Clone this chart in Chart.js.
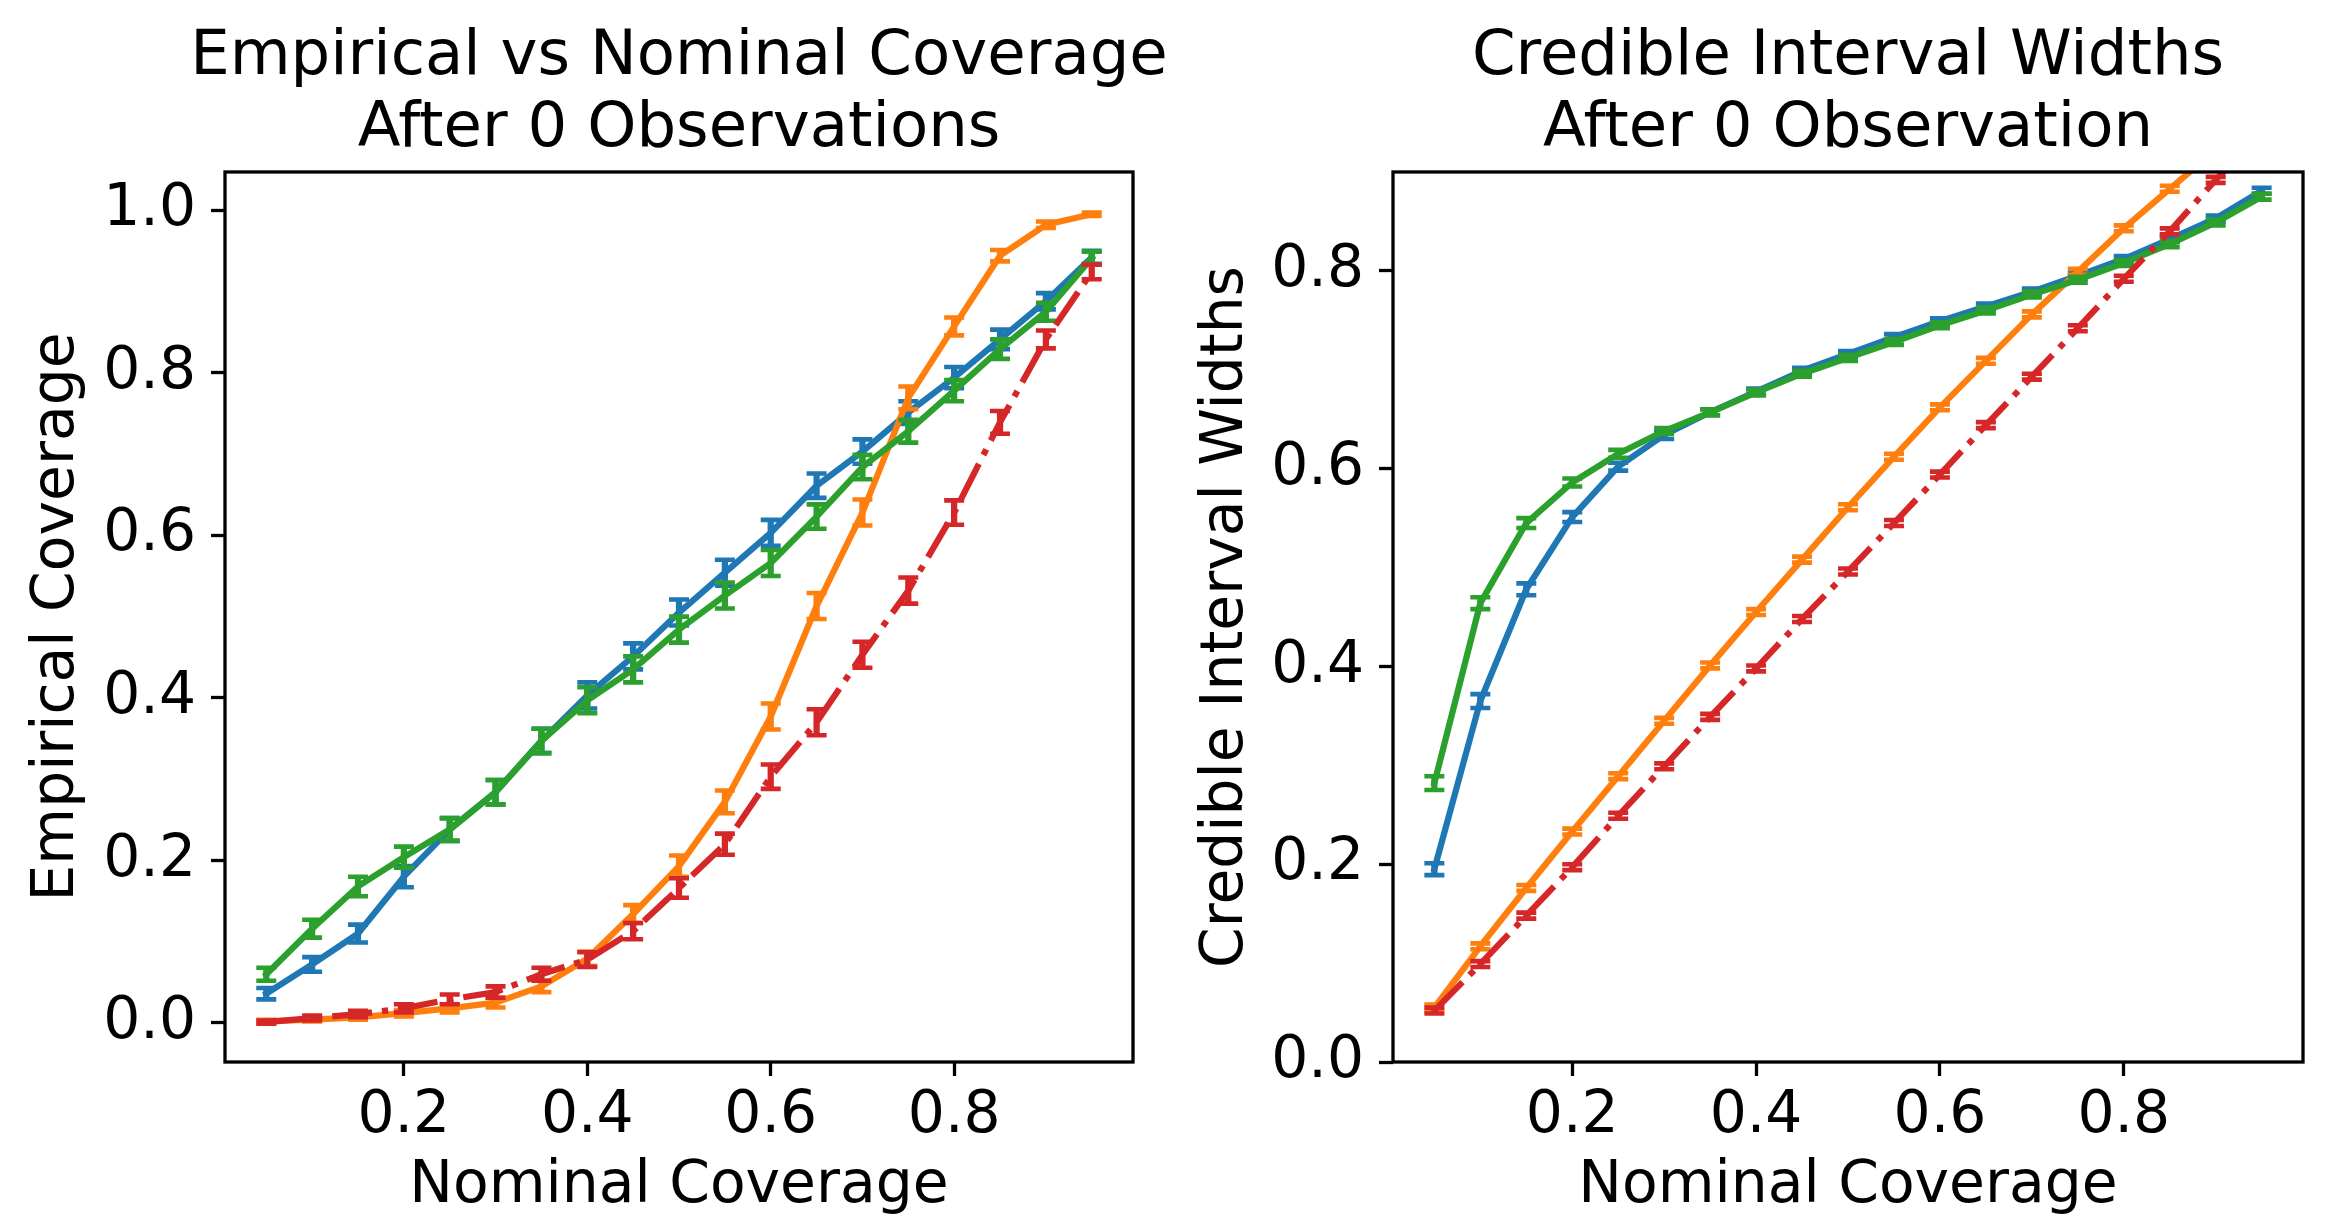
<!DOCTYPE html>
<html><head><meta charset="utf-8">
<script src="https://cdn.jsdelivr.net/npm/chart.js@4.4.1/dist/chart.umd.min.js"></script>
<style>
html,body{margin:0;padding:0;background:#fff;}
#wrap{position:relative;width:2333px;height:1223px;overflow:hidden;background:#fff;}
canvas{position:absolute;top:0;}
</style></head><body>
<div id="wrap">
<canvas id="c2" width="1167" height="1223" style="left:1166px;width:1167px;height:1223px"></canvas>
<canvas id="c1" width="1358" height="1223" style="left:0px;width:1358px;height:1223px"></canvas>
</div>
<script>
// ---- data ----
const nominal = [0.05,0.10,0.15,0.20,0.25,0.30,0.35,0.40,0.45,0.50,0.55,0.60,0.65,0.70,0.75,0.80,0.85,0.90,0.95];
const xTicks = [0.2,0.4,0.6,0.8];
const yTicksCoverage = [0.0,0.2,0.4,0.6,0.8,1.0];
const yTicksWidth = [0.0,0.2,0.4,0.6,0.8];

const coverageBlue   = [0.036,0.072,0.110,0.180,0.238,0.284,0.347,0.403,0.451,0.505,0.554,0.603,0.661,0.703,0.751,0.794,0.841,0.888,0.942];
const coverageOrange = [0.002,0.004,0.007,0.012,0.018,0.025,0.045,0.079,0.134,0.193,0.272,0.377,0.513,0.628,0.769,0.857,0.944,0.982,0.995];
const coverageGreen  = [0.060,0.116,0.168,0.204,0.238,0.284,0.347,0.397,0.435,0.484,0.526,0.566,0.623,0.684,0.728,0.778,0.829,0.875,0.941];
const coverageRed    = [0.001,0.006,0.011,0.018,0.029,0.038,0.060,0.078,0.113,0.166,0.220,0.303,0.370,0.453,0.532,0.628,0.739,0.841,0.924];

const coverageBlueErr   = [0.007,0.009,0.011,0.013,0.014,0.015,0.015,0.016,0.016,0.016,0.016,0.016,0.015,0.015,0.014,0.013,0.012,0.010,0.008];
const coverageOrangeErr = [0.002,0.002,0.003,0.004,0.005,0.006,0.007,0.009,0.011,0.013,0.014,0.016,0.016,0.016,0.014,0.011,0.007,0.004,0.002];
const coverageGreenErr  = [0.008,0.011,0.012,0.013,0.014,0.015,0.015,0.016,0.016,0.016,0.016,0.016,0.015,0.015,0.014,0.013,0.012,0.011,0.008];
const coverageRedErr    = [0.002,0.003,0.004,0.005,0.006,0.007,0.008,0.009,0.010,0.012,0.013,0.015,0.016,0.016,0.016,0.015,0.014,0.011,0.009];

const widthBlue   = [0.195,0.365,0.478,0.551,0.602,0.634,0.657,0.678,0.699,0.716,0.733,0.749,0.764,0.779,0.795,0.812,0.832,0.853,0.881];
const widthOrange = [0.055,0.117,0.176,0.233,0.289,0.345,0.401,0.455,0.508,0.561,0.612,0.662,0.709,0.756,0.799,0.843,0.883,0.922,0.958];
const widthGreen  = [0.282,0.464,0.545,0.586,0.615,0.638,0.657,0.677,0.696,0.712,0.728,0.745,0.760,0.776,0.791,0.808,0.827,0.849,0.875];
const widthRed    = [0.052,0.099,0.148,0.197,0.249,0.299,0.349,0.398,0.448,0.496,0.545,0.594,0.644,0.693,0.742,0.792,0.840,0.892,0.940];

const widthBlueErr   = [0.006,0.007,0.006,0.005,0.004,0.004,0.003,0.003,0.003,0.003,0.003,0.003,0.003,0.003,0.003,0.003,0.003,0.003,0.003];
const widthOrangeErr = [0.003,0.003,0.003,0.003,0.003,0.003,0.003,0.003,0.003,0.003,0.003,0.003,0.003,0.003,0.003,0.003,0.003,0.003,0.003];
const widthGreenErr  = [0.007,0.006,0.005,0.004,0.004,0.003,0.003,0.003,0.003,0.003,0.003,0.003,0.003,0.003,0.003,0.003,0.003,0.003,0.003];
const widthRedErr    = [0.003,0.003,0.003,0.003,0.003,0.003,0.003,0.003,0.003,0.003,0.003,0.003,0.003,0.003,0.003,0.003,0.003,0.003,0.003];

const seriesNames = ['Method A','Method B','Method C','Method D'];
const seriesColors = ['#1f77b4','#ff7f0e','#2ca02c','#d62728'];

// ---- styling ----
const FONT = 'DejaVu Sans';
const FS = 58.33;
const TFS = 62.5;
const LW = 6.25;
Chart.defaults.font.family = FONT;
Chart.defaults.color = '#000';

const errorBarPlugin = {
  id: 'errorBars',
  afterDatasetDraw(chart, args) {
    const ds = chart.data.datasets[args.index];
    if (!ds.errors) return;
    const xs = chart.scales.x, ys = chart.scales.y, ca = chart.chartArea;
    const ctx = chart.ctx;
    ctx.save();
    ctx.beginPath();
    ctx.rect(ca.left, ca.top, ca.right - ca.left, ca.bottom - ca.top);
    ctx.clip();
    ctx.strokeStyle = ds.borderColor;
    ctx.setLineDash([]);
    ds.data.forEach((p, i) => {
      const e = ds.errors[i];
      const px = xs.getPixelForValue(p.x);
      const y1 = ys.getPixelForValue(p.y - e);
      const y2 = ys.getPixelForValue(p.y + e);
      ctx.lineCap = 'butt';
      ctx.lineWidth = LW;
      ctx.beginPath(); ctx.moveTo(px, y1); ctx.lineTo(px, y2); ctx.stroke();
      ctx.lineWidth = 4.6;
      ctx.beginPath();
      ctx.moveTo(px - 10, y1); ctx.lineTo(px + 10, y1);
      ctx.moveTo(px - 10, y2); ctx.lineTo(px + 10, y2);
      ctx.stroke();
    });
    ctx.restore();
  }
};

const framePlugin = {
  id: 'frame',
  afterDatasetsDraw(chart) {
    const ca = chart.chartArea, ctx = chart.ctx;
    ctx.save();
    ctx.strokeStyle = '#000';
    ctx.lineWidth = 3.3;
    ctx.setLineDash([]);
    ctx.strokeRect(ca.left, ca.top, ca.right - ca.left, ca.bottom - ca.top);
    ctx.restore();
  }
};

function makeDatasets(values, errors) {
  const orders = [4,3,2,1];
  return values.map((vals, k) => ({
    label: seriesNames[k],
    data: nominal.map((x, i) => ({x: x, y: vals[i]})),
    errors: errors[k],
    borderColor: seriesColors[k],
    backgroundColor: seriesColors[k],
    borderWidth: LW,
    borderDash: k === 3 ? [40, 10, 6.25, 10] : [],
    borderCapStyle: k === 3 ? 'butt' : 'square',
    borderJoinStyle: 'round',
    pointRadius: 0,
    pointHoverRadius: 0,
    tension: 0,
    fill: false,
    clip: 0,
    order: orders[k]
  }));
}

function makeChart(id, opts) {
  const scales = {
    x: {
      type: 'linear',
      min: 0.005, max: 0.995,
      afterFit: (s) => { s.height = 161; },
      afterBuildTicks: (s) => { s.ticks = xTicks.map(v => ({value: v})); },
      border: { display: false },
      grid: { display: true, drawOnChartArea: false, drawTicks: true, tickLength: 14, tickWidth: 3.3, tickColor: '#000', color: 'rgba(0,0,0,0)' },
      ticks: { padding: 6, maxRotation: 0, autoSkip: false, color: '#000',
               font: { family: FONT, size: FS, lineHeight: 1.2 },
               callback: (v) => Number(v).toFixed(1) },
      title: { display: true, text: 'Nominal Coverage', color: '#000',
               font: { family: FONT, size: FS, lineHeight: 1.2 },
               padding: { top: 0, bottom: 1.5 } }
    },
    y: {
      type: 'linear',
      min: opts.yMin, max: opts.yMax,
      afterFit: (s) => { s.width = opts.yAxisWidth; },
      afterBuildTicks: (s) => { s.ticks = opts.yTicks.map(v => ({value: v})); },
      border: { display: false },
      grid: { display: true, drawOnChartArea: false, drawTicks: true, tickLength: 14, tickWidth: 3.3, tickColor: '#000', color: 'rgba(0,0,0,0)' },
      ticks: { padding: 15, autoSkip: false, color: '#000',
               font: { family: FONT, size: FS, lineHeight: 1.2 },
               callback: (v) => Number(v).toFixed(1) },
      title: { display: true, text: opts.yTitle, color: '#000',
               font: { family: FONT, size: FS, lineHeight: 1.2 },
               padding: { top: opts.yTitlePad, bottom: 0 } }
    }
  };
  if (opts.rightSpacer) {
    // empty right-hand box: reserves space so the full-width title stays centred over the axes
    scales.spacer = {
      type: 'linear', position: 'right', min: 0, max: 1,
      afterFit: (s) => { s.width = opts.rightSpacer; },
      border: { display: false },
      grid: { display: false, drawTicks: false },
      ticks: { display: false }
    };
  }
  return new Chart(document.getElementById(id), {
    type: 'line',
    data: { datasets: makeDatasets(opts.values, opts.errors) },
    plugins: [errorBarPlugin, framePlugin],
    options: {
      responsive: false,
      animation: false,
      devicePixelRatio: 1,
      layout: { padding: { left: 0, right: opts.padRight, top: 0, bottom: 0 } },
      plugins: {
        legend: { display: false },
        tooltip: { enabled: false },
        title: {
          display: true,
          fullSize: opts.titleFull,
          text: opts.title,
          color: '#000',
          font: { family: FONT, size: TFS, weight: 'normal', lineHeight: 1.147 },
          padding: { top: 22.15, bottom: 6.45 }
        }
      },
      scales: scales
    }
  });
}

makeChart('c1', {
  title: ['Empirical vs Nominal Coverage', 'After 0 Observations'],
  titleFull: true,
  yTitle: 'Empirical Coverage',
  values: [coverageBlue, coverageOrange, coverageGreen, coverageRed],
  errors: [coverageBlueErr, coverageOrangeErr, coverageGreenErr, coverageRedErr],
  yMin: -0.048, yMax: 1.047,
  yTicks: yTicksCoverage,
  yAxisWidth: 225,
  yTitlePad: 23,
  padRight: 0,
  rightSpacer: 225
});

makeChart('c2', {
  title: ['Credible Interval Widths', 'After 0 Observation'],
  titleFull: false,
  yTitle: 'Credible Interval Widths',
  values: [widthBlue, widthOrange, widthGreen, widthRed],
  errors: [widthBlueErr, widthOrangeErr, widthGreenErr, widthRedErr],
  yMin: 0, yMax: 0.9,
  yTicks: yTicksWidth,
  yAxisWidth: 227,
  yTitlePad: 25.5,
  padRight: 30,
  rightSpacer: 0
});
</script>
</body></html>
